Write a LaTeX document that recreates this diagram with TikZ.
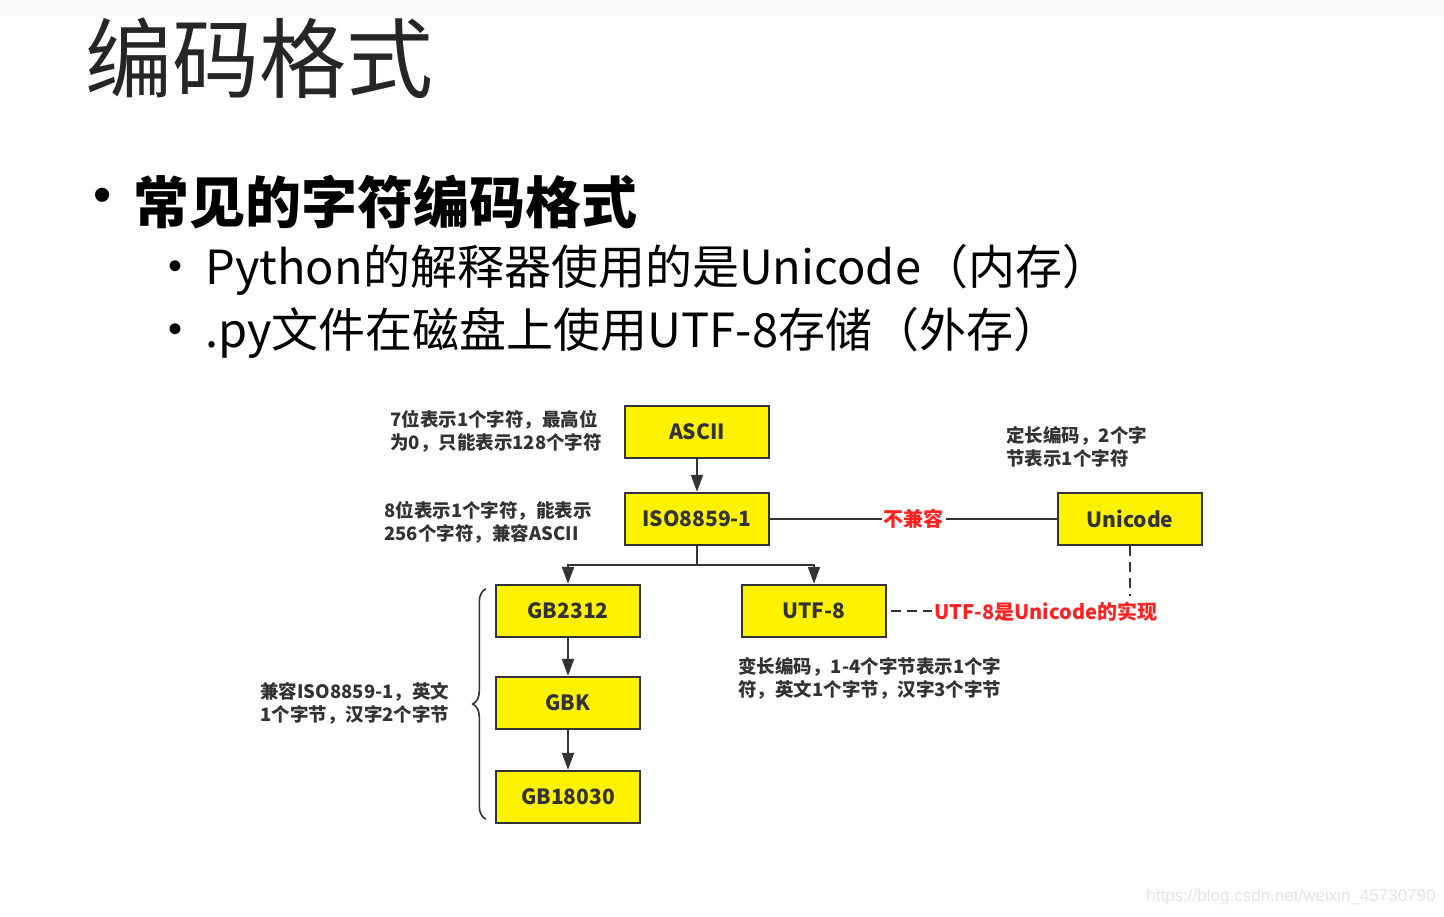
\documentclass[tikz,border=0pt]{standalone}
\usepackage{fontspec}
\setmainfont{Noto Sans CJK SC}
\newfontfamily\wmfont{Liberation Sans}
\usetikzlibrary{arrows.meta,decorations.pathreplacing}
\definecolor{boxyellow}{HTML}{FFF200}
\definecolor{inkgray}{HTML}{333333}
\definecolor{notered}{HTML}{FF2020}

\begin{document}
\begin{tikzpicture}[x=0.5pt,y=-0.5pt,
	code/.style={rectangle,draw=inkgray,line width=1.2pt,fill=boxyellow,
		minimum width=72pt,minimum height=26pt,inner sep=0pt,
		text=inkgray,font=\fontsize{10.5}{12}\selectfont\bfseries},
	note/.style={anchor=west,align=left,inner sep=0pt,text=inkgray,
		font=\fontsize{9.25}{11.5}\selectfont\bfseries},
	redtext/.style={text=notered,inner sep=1pt,font=\fontsize{10}{12}\selectfont\bfseries},
	link/.style={draw=inkgray,line width=1pt},
	flow/.style={link,-{Triangle[length=8.5pt,width=6pt]}},
	slide/.style={anchor=west,inner sep=0pt},
	dot/.style={inner sep=0pt,font=\wmfont\fontsize{#1}{#1}\selectfont}]
	\useasboundingbox (0,0) rectangle (1444,916);
	\fill[gray!5] (0,0) rectangle (1444,16);

	% slide text
	\node[slide,text=black!85,font=\fontsize{43.5}{50}\selectfont] (title) at (85,58) {编码格式};
	\node[dot=26] (dot) at (103,200) {•};
	\node[slide,font=\fontsize{28}{32}\selectfont\bfseries] (heading) at (133,202) {常见的字符编码格式};
	\node[dot=20] (dot1) at (175,270) {•};
	\node[slide,font=\fontsize{23.5}{26}\selectfont] (line1) at (205,270) {Python的解释器使用的是Unicode（内存）};
	\node[dot=20] (dot2) at (175,333) {•};
	\node[slide,font=\fontsize{23.5}{26}\selectfont] (line2) at (205,333) {.py文件在磁盘上使用UTF-8存储（外存）};

	% encodings
	\node[code] (ascii) at (697,432) {ASCII};
	\node[code] (iso) at (697,519) {ISO8859-1};
	\node[code] (unicode) at (1130,519) {Unicode};
	\node[code] (gb2312) at (568,611) {GB2312};
	\node[code] (utf8) at (814,611) {UTF-8};
	\node[code] (gbk) at (568,703) {GBK};
	\node[code] (gb18030) at (568,797) {GB18030};

	\coordinate (split) at (697,565);
	\draw[flow] (ascii) -- (iso);
	\draw[link] (iso) -- (split);
	\draw[flow] (split) -| (gb2312.north);
	\draw[flow] (split) -| (utf8.north);
	\draw[flow] (gb2312) -- (gbk);
	\draw[flow] (gbk) -- (gb18030);
	\draw[link] (iso) -- node[redtext,fill=white] (clash) {不兼容} (unicode);

	\node[redtext,anchor=west] (impl) at (932,612) {UTF-8是Unicode的实现};
	\draw[link,dash pattern=on 5pt off 3pt] ([xshift=2pt]utf8.east) -- (impl.west |- utf8.east);
	\draw[link,dash pattern=on 5pt off 3pt] (unicode) -- ([yshift=2pt]unicode |- impl.north);

	% notes
	\node[note] (asciinote) at (390,431) {7位表示1个字符，最高位\\为0，只能表示128个字符};
	\node[note] (isonote) at (384,522) {8位表示1个字符，能表示\\256个字符，兼容ASCII};
	\node[note] (uninote) at (1006,447) {定长编码，2个字\\节表示1个字符};
	\node[note] (utfnote) at (738,678) {变长编码，1-4个字节表示1个字\\符，英文1个字节，汉字3个字节};
	\node[note] (gbnote) at (260,703) {兼容ISO8859-1，英文\\1个字节，汉字2个字节};
	\draw[inkgray,line width=0.8pt,decorate,decoration={brace,amplitude=6.5pt}]
		([xshift=-4.5pt,yshift=2.5pt]gb18030.south west) -- ([xshift=-4.5pt,yshift=-2.5pt]gb2312.north west);

	\node[anchor=east,inner sep=0pt,text=gray!22,font=\wmfont\fontsize{8.5}{10}\selectfont] (mark) at (1436,897) {https://blog.csdn.net/weixin\_45730790};
\end{tikzpicture}
\end{document}
